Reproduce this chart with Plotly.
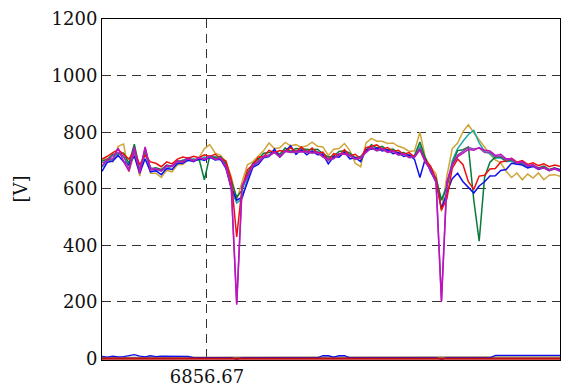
import numpy as np
import plotly.graph_objects as go

# sample times (s), one sample every 1.2 s
t0 = 6833.3
dt = 1.2
n_samples = 86
t = t0 + dt * np.arange(n_samples)

tick_vals = [6856.67]
tick_text = ["6856.67"]
y_ticks = [0, 200, 400, 600, 800, 1000, 1200]

# phase voltages [V]
v_red = [705, 715, 728, 738, 722, 705, 735, 685, 718, 695, 690, 678, 695, 688, 705, 712, 708, 715, 710, 720,
         714, 722, 708, 698, 632, 430, 605, 668, 685, 712, 714, 736, 728, 735, 732, 745, 730, 748, 728, 744,
         726, 730, 700, 724, 718, 738, 716, 722, 706, 745, 750, 755, 740, 746, 732, 736, 722, 728, 712, 738,
         700, 680, 632, 525, 565, 672, 705, 685, 625, 598, 645, 648, 670, 672, 695, 698, 708, 694, 700, 686,
         692, 682, 688, 678, 684, 680]
v_blue = [662, 694, 698, 718, 696, 684, 716, 655, 706, 660, 664, 650, 672, 668, 690, 690, 702, 696, 706, 700,
          712, 702, 704, 672, 605, 560, 570, 626, 676, 686, 710, 714, 740, 712, 734, 752, 722, 738, 720, 734,
          720, 722, 688, 714, 712, 730, 706, 710, 696, 738, 740, 744, 734, 738, 724, 728, 714, 720, 704, 640,
          706, 660, 625, 530, 585, 636, 655, 625, 605, 585, 610, 625, 645, 646, 665, 668, 690, 686, 684, 674,
          679, 668, 674, 664, 672, 668]
v_green = [698, 704, 722, 724, 726, 690, 758, 668, 734, 670, 674, 668, 684, 680, 698, 698, 710, 700, 706, 632,
           716, 710, 714, 688, 625, 570, 595, 655, 690, 704, 726, 728, 734, 722, 744, 732, 742, 740, 740, 738,
           740, 724, 712, 716, 732, 734, 726, 710, 714, 736, 756, 744, 750, 736, 740, 726, 728, 716, 718, 765,
           708, 666, 638, 560, 605, 688, 735, 738, 748, 560, 415, 640, 694, 712, 712, 698, 702, 688, 692, 681,
           684, 674, 680, 668, 674, 666]
v_magenta = [680, 704, 706, 744, 696, 662, 748, 656, 748, 666, 670, 664, 682, 680, 698, 696, 708, 698, 709, 704,
             714, 704, 708, 676, 600, 190, 612, 646, 686, 696, 714, 718, 730, 714, 734, 730, 732, 732, 732, 728,
             730, 714, 704, 708, 724, 724, 719, 706, 710, 730, 746, 736, 742, 730, 734, 721, 724, 712, 714, 742,
             696, 668, 626, 200, 624, 686, 714, 726, 739, 736, 746, 736, 734, 718, 722, 706, 706, 692, 696, 682,
             684, 672, 676, 666, 672, 664]
v_gold = [705, 706, 695, 750, 758, 660, 725, 645, 740, 655, 655, 640, 665, 660, 685, 686, 702, 698, 710, 742,
          756, 726, 718, 696, 642, 560, 625, 685, 696, 716, 735, 762, 742, 745, 764, 752, 756, 746, 752, 765,
          750, 748, 718, 740, 742, 760, 735, 690, 678, 762, 778, 768, 768, 760, 762, 750, 744, 732, 734, 800,
          712, 676, 652, 520, 645, 742, 762, 802, 826, 798, 772, 748, 722, 702, 692, 662, 640, 656, 632, 652,
          638, 656, 632, 648, 650, 644]
v_teal = [676, 700, 704, 726, 712, 684, 732, 666, 722, 676, 662, 666, 670, 682, 686, 702, 698, 706, 700, 712,
          708, 714, 702, 690, 596, 550, 565, 636, 679, 694, 714, 720, 732, 716, 736, 732, 734, 734, 734, 730,
          732, 716, 706, 708, 724, 724, 720, 706, 710, 732, 748, 738, 744, 732, 736, 722, 726, 714, 714, 752,
          698, 672, 626, 560, 612, 698, 742, 768, 792, 806, 762, 732, 724, 708, 710, 696, 698, 686, 690, 678,
          682, 672, 676, 666, 672, 664]
v_purple = [692, 698, 718, 728, 716, 668, 732, 664, 744, 672, 672, 662, 680, 678, 696, 695, 707, 699, 710, 705,
            715, 705, 709, 680, 606, 195, 604, 644, 682, 694, 712, 716, 728, 712, 732, 728, 730, 730, 730, 726,
            728, 712, 702, 706, 722, 722, 717, 704, 708, 728, 744, 734, 740, 728, 732, 719, 722, 710, 712, 738,
            694, 666, 621, 205, 619, 681, 719, 734, 746, 741, 744, 728, 729, 714, 716, 702, 704, 690, 694, 680,
            682, 670, 674, 664, 670, 662]

# residual / neutral channels [V]
v_blue_low = [8, 5, 9, 6, 7, 10, 14, 9, 6, 10, 7, 9, 9, 9, 9, 9, 8, 3, 3, 3,
              3, 3, 3, 3, 3, -3, 3, 3, 3, 3, 3, 3, 3, 3, 3, 3, 3, 3, 3, 3,
              3, 10, 10, 5, 10, 10, 3, 3, 3, 3, 3, 3, 3, 3, 3, 3, 3, 3, 3, 3,
              3, 3, 3, -3, 3, 3, 3, 3, 3, 3, 3, 3, 3, 11, 11, 11, 11, 11, 11, 11,
              11, 11, 11, 11, 11, 11]
v_gray_low = [4, 4, 4, 4, 4, 4, 4, 4, 4, 4, 4, 4, 4, 4, 4, 4, 4, 4, 4, 4,
              4, 4, 4, 4, 4, 4, 4, 4, 4, 4, 4, 4, 4, 4, 4, 4, 4, 4, 4, 4,
              4, 4, 4, 4, 4, 4, 4, 4, 4, 4, 4, 4, 4, 4, 4, 4, 4, 4, 4, 4,
              4, 4, 4, 4, 4, 4, 4, 4, 4, 4, 4, 4, 4, 6, 6, 6, 6, 6, 6, 6,
              6, 6, 6, 6, 6, 6]
v_red_low = [0, 0, 0, 0, 0, 0, 0, 0, 0, 0, 0, 0, 0, 0, 0, 0, 0, 0, 0, 0,
             0, 0, 0, 0, 0, 0, 0, 0, 0, 0, 0, 0, 0, 0, 0, 0, 0, 0, 0, 0,
             0, 0, 0, 0, 0, 0, 0, 0, 0, 0, 0, 0, 0, 0, 0, 0, 0, 0, 0, 0,
             0, 0, 0, 0, 0, 0, 0, 0, 0, 0, 0, 0, 0, 0, 0, 0, 0, 0, 0, 0,
             0, 0, 0, 0, 0, 0]

series = [
    (v_gold, "#cfa539", 1.5),
    (v_teal, "#1aa9a9", 1.5),
    (v_green, "#0a7a3a", 1.5),
    (v_blue, "#1010ee", 1.5),
    (v_red, "#ee1010", 1.5),
    (v_purple, "#8e44ad", 1.5),
    (v_magenta, "#c010c0", 1.5),
    (v_gray_low, "#8a8a70", 1.5),
    (v_blue_low, "#1010ee", 1.3),
    (v_red_low, "#c01010", 2.2),
]

fig = go.Figure()
for values, color, width in series:
    fig.add_trace(go.Scatter(x=t, y=values, mode="lines",
                             line=dict(color=color, width=width),
                             showlegend=False, hoverinfo="skip"))

font = dict(family="'DejaVu Serif', serif", size=18, color="#111111")

fig.update_layout(
    width=561, height=391,
    margin=dict(l=102, r=1, t=19, b=31),
    paper_bgcolor="white", plot_bgcolor="white",
    font=font,
    xaxis=dict(range=[t0, t0 + dt * (n_samples - 1)], tickmode="array",
               tickvals=tick_vals, ticktext=tick_text,
               showgrid=True, gridcolor="#333333", griddash="9px,6px", gridwidth=1,
               showline=True, linecolor="black", linewidth=1, mirror=True,
               zeroline=False, ticks="", tickfont=font),
    yaxis=dict(range=[-5, 1200], tickmode="array", tickvals=y_ticks,
               showgrid=True, gridcolor="#333333", griddash="9px,6px", gridwidth=1,
               showline=True, linecolor="black", linewidth=1, mirror=True,
               zeroline=False, ticks="", tickfont=font),
    annotations=[dict(text="[V]", x=-0.179, y=0.5, xref="paper", yref="paper",
                      textangle=-90, showarrow=False, font=font,
                      xanchor="center", yanchor="middle")],
)

fig.write_html("out.html")
